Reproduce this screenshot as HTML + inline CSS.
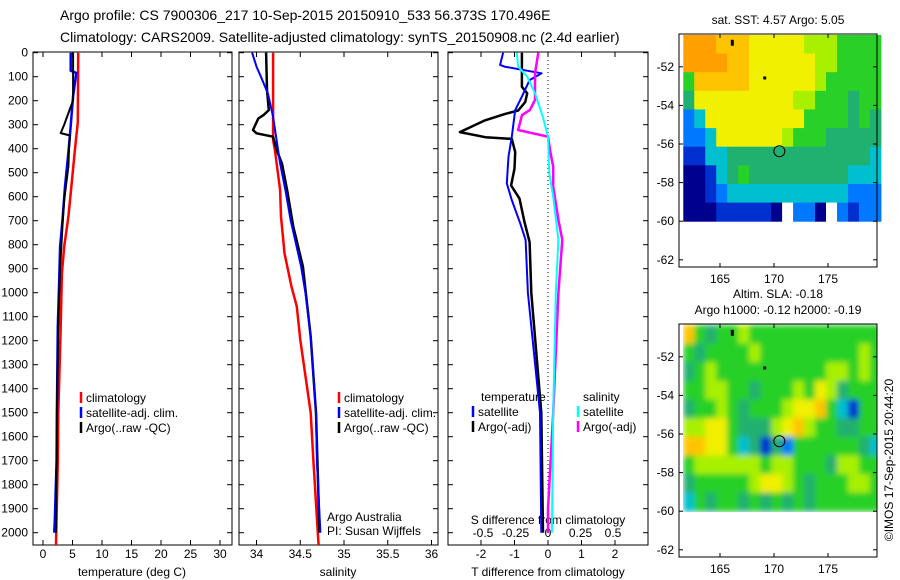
<!DOCTYPE html>
<html><head><meta charset="utf-8">
<style>
body{margin:0;background:#fff;}
svg{display:block;font-family:"Liberation Sans",sans-serif;}
text{font-size:12px;fill:#000;}
</style></head>
<body>
<svg id="chart" width="900" height="580" viewBox="0 0 900 580">
<defs>
<filter id="blur" x="0" y="0" width="1" height="1"><feGaussianBlur stdDeviation="3"/></filter>
<clipPath id="slaclip"><rect x="679" y="324" width="198" height="188"/></clipPath>
</defs>
<text x="60" y="20" style="font-size:14px">Argo profile: CS 7900306_217 10-Sep-2015 20150910_533 56.373S 170.496E</text>
<text x="60" y="42" style="font-size:14px">Climatology: CARS2009. Satellite-adjusted climatology: synTS_20150908.nc (2.4d earlier)</text>
<g id="g"></g>
</svg>
<script>
// ---------- data ----------
const depthTicks=[0,100,200,300,400,500,600,700,800,900,1000,1100,1200,1300,1400,1500,1600,1700,1800,1900,2000];
const tempTicks=[0,5,10,15,20,25,30];
const salTicks=[34,34.5,35,35.5,36];
const salTickLabels=["34","34.5","35","35.5","36"];
const tdTicks=[-2,-1,0,1,2];
const sdTicks=[-0.5,-0.25,0,0.25,0.5];
const sdTickLabels=["-0.5","-0.25","0","0.25","0.5"];
// temperature profiles [depth, value]
const tempClimDepth=[0,290,405,544,683,808,920,1142,1500,1700,2055];
const tempClim=[5.97,5.9,5.4,4.86,4.3,3.6,3.2,3.0,2.6,2.5,2.2];
const tempSatDepth=[0,75,84,180,305,416,558,697,808,947,1142,1500,1700,1950,2000];
const tempSat=[4.7,4.7,5.65,5.1,4.7,4.3,3.73,3.3,2.9,2.75,2.5,2.35,2.3,2.0,1.9];
const tempArgoDepth=[0,200,226,300,335,345,400,472,614,720,900,1142,1500,2000];
const tempArgo=[5.1,5.1,4.7,3.6,3.0,4.6,4.4,4.3,3.6,3.3,2.9,2.6,2.35,2.2];
// salinity profiles
const salClimDepth=[0,364,405,572,683,836,975,1058,1197,1500,1700,2000,2055];
const salClim=[34.19,34.19,34.21,34.27,34.28,34.32,34.40,34.46,34.5,34.62,34.65,34.70,34.71];
const salSatDepth=[0,58,100,170,267,364,461,572,697,794,891,1003,1183,1500,1700,2000];
const salSat=[33.95,34.0,34.05,34.13,34.19,34.23,34.27,34.33,34.39,34.45,34.51,34.56,34.62,34.68,34.69,34.73];
const salArgoDepth=[0,155,239,260,274,322,336,350,405,461,572,725,891,1183,1500,2000];
const salArgo=[34.11,34.12,34.14,34.08,34.02,33.96,34.0,34.19,34.23,34.29,34.35,34.42,34.53,34.62,34.68,34.72];
// differences
const tdArgoDepth=[0,142,169,206,241,255,283,331,352,359,414,483,553,608,706,789,1000,1500,2000];
const tdArgo=[-0.78,-0.78,-0.62,-0.68,-0.89,-1.28,-1.9,-2.63,-1.87,-1.08,-0.98,-1.0,-1.1,-0.85,-0.7,-0.55,-0.5,-0.2,-0.15];
const tdSatDepth=[0,51,58,86,114,183,239,350,433,544,614,711,780,1000,1500,2000];
const tdSat=[-1.34,-1.43,-1.3,-0.19,-0.55,-0.78,-0.98,-1.08,-1.18,-1.23,-1.08,-0.83,-0.67,-0.6,-0.24,-0.2];
const sdSatDepth=[0,58,100,169,267,350,503,600,780,1000,1500,2000];
const sdSat=[-0.24,-0.23,-0.16,-0.1,-0.04,0.0,0.01,0.04,0.08,0.06,0.04,0.03];
const sdArgoDepth=[0,86,197,239,260,322,350,419,475,558,697,780,1000,1500,1900,2000];
const sdArgo=[-0.075,-0.1,-0.1,-0.14,-0.2,-0.23,0.0,0.02,0.04,0.04,0.08,0.11,0.08,0.04,0.0,0.0];
// maps
const lonTicks=[165,170,175];
const latTicks=[-52,-54,-56,-58,-60,-62];
const sstGrid=[
"999888777776665555","999988777777665555","588888777777655555","477777777766555455",
"237777777775555454","223777777655544444","113344444444444443","001345444444444333",
"001233333333333222","000111110x220x2122"];
const slaGrid=[
"854556555555555555","545555655555555565","456555555555566565","556655455565764555",
"455654555677853155","667754446786554455","887753414255555543","566666656655546655",
"455555677654555665","354554545454555555"];
</script>
<script>
const NS="http://www.w3.org/2000/svg";
const G=document.getElementById('g');
function el(tag,attrs,parent){const e=document.createElementNS(NS,tag);for(const k in attrs)e.setAttribute(k,attrs[k]);(parent||G).appendChild(e);return e;}
function txt(x,y,s,anchor,parent,size){const t=el('text',{x:x,y:y,'text-anchor':anchor||'start'},parent);if(size)t.style.fontSize=size+'px';t.textContent=s;return t;}
const Y0=52.7,PXM=0.24,BOT=545,TOP=52;
const yD=d=>Y0+d*PXM;
const panels=[
 {x0:33,x1:232,name:'temperature-panel'},
 {x0:239,x1:438,name:'salinity-panel'},
 {x0:448,x1:648,name:'difference-panel'}];
const xT=v=>43+v*5.9, xS=v=>256.5+(v-34)*87.5, xTD=v=>548+v*33.5, xSD=v=>548+v*130;
panels.forEach((p,i)=>{
  const r=el('rect',{x:p.x0,y:TOP,width:p.x1-p.x0,height:BOT-TOP,fill:'none',stroke:'#000','stroke-width':1});
  
  
  depthTicks.forEach(d=>{
    el('line',{x1:p.x0,x2:p.x0+5,y1:yD(d),y2:yD(d),stroke:'#000'});
    el('line',{x1:p.x1,x2:p.x1-5,y1:yD(d),y2:yD(d),stroke:'#000'});
  });
});
const yl=el('g',{});


depthTicks.forEach(d=>txt(28,yD(d)+4,String(d),'end',yl));
function xaxis(ticks,labels,fx,name,p,ly){
  const g=el('g',{});
  
  
  ticks.forEach((t,i)=>{const x=fx(t);
    el('line',{x1:x,x2:x,y1:BOT,y2:BOT-5,stroke:'#000'},g);
    el('line',{x1:x,x2:x,y1:TOP,y2:TOP+5,stroke:'#000'},g);
    txt(x,ly||558,labels[i],'middle',g);});
}
xaxis(tempTicks,tempTicks.map(String),xT,'temperature-x-axis',panels[0]);
xaxis(salTicks,salTickLabels,xS,'salinity-x-axis',panels[1]);
xaxis(tdTicks,tdTicks.map(String),xTD,'t-difference-x-axis',panels[2]);
const sg=el('g',{});


sdTicks.forEach((t,i)=>txt(xSD(t),537,sdTickLabels[i],'middle',sg));
txt(548,524,'S difference from climatology','middle',sg);
let t;
t=txt(132,576,'temperature (deg C)','middle');
t=txt(338,576,'salinity','middle');
t=txt(548,576,'T difference from climatology','middle');
const z=el('line',{x1:548,x2:548,y1:TOP,y2:BOT,stroke:'#000','stroke-dasharray':'1,3'});

function series(ds,vs,fx,color,name,w){
  let pts=ds.map((d,i)=>fx(vs[i]).toFixed(1)+','+Math.min(yD(d),BOT).toFixed(1)).join(' ');
  const pl=el('polyline',{points:pts,fill:'none',stroke:color,'stroke-width':w||2.5,'stroke-linejoin':'round'});
  
  
}
series(tempClimDepth,tempClim,xT,'#ff0000','temp-climatology-line');
series(tempSatDepth,tempSat,xT,'#0000ff','temp-satellite-line');
series(tempArgoDepth,tempArgo,xT,'#000','temp-argo-line',2);
series(salClimDepth,salClim,xS,'#ff0000','sal-climatology-line');
series(salArgoDepth,salArgo,xS,'#000','sal-argo-line',2.5);
series(salSatDepth,salSat,xS,'#0000ff','sal-satellite-line',2);
series(tdArgoDepth,tdArgo,xTD,'#000','tdiff-argo-line',2.5);
series(tdSatDepth,tdSat,xTD,'#0000ff','tdiff-satellite-line',2);
series(sdArgoDepth,sdArgo,xSD,'#ff00ff','sdiff-argo-line',2.5);
series(sdSatDepth,sdSat,xSD,'#00ffff','sdiff-satellite-line',2);
function leg(x,y,color,label,name){
  const g=el('g',{});
  
  
  el('line',{x1:x,x2:x,y1:y-10,y2:y+1,stroke:color,'stroke-width':2.5},g);
  txt(x+5,y,label,'start',g);
}
leg(81,402,'#ff0000','climatology','legend-temp-climatology');
leg(81,417,'#0000ff','satellite-adj. clim.','legend-temp-satellite');
leg(81,432,'#000','Argo(..raw -QC)','legend-temp-argo');
leg(339,402,'#ff0000','climatology','legend-sal-climatology');
leg(339,417,'#0000ff','satellite-adj. clim.','legend-sal-satellite');
leg(339,432,'#000','Argo(..raw -QC)','legend-sal-argo');
txt(481,401,'temperature','start');
txt(583,401,'salinity','start');
leg(473,416,'#0000ff','satellite','legend-tdiff-satellite');
leg(473,431,'#000','Argo(-adj)','legend-tdiff-argo');
leg(578,416,'#00ffff','satellite','legend-sdiff-satellite');
leg(578,431,'#ff00ff','Argo(-adj)','legend-sdiff-argo');
txt(327,521,'Argo Australia','start');
txt(327,535,'PI: Susan Wijffels','start');
const cmap={'x':'#ffffff','0':'#00008f','1':'#0030d0','2':'#0078ff','3':'#00c0d0','4':'#20b070','5':'#28d028','6':'#a8f000','7':'#f0f000','8':'#ffc400','9':'#ffa000'};
function drawMap(oy,grid,name,title1,title2,smooth){
  const X0=679,X1=877,Y1=oy+34,Y2=oy+267;
  const lonX=l=>774+(l-170)*10.8, latY=l=>oy+144-(l+56)*19.3;
  const g=el('g',{});
  
  
  const cg=el('g',smooth?{'clip-path':'url(#slaclip)'}:{},g);
  const cells=el('g',smooth?{filter:'url(#blur)'}:{},cg);
  const lon0=161.6,lon1=179.9,lat0=-50.35,lat1=-60;
  const nr=grid.length,nc=grid[0].length;
  grid.forEach((row,r)=>{for(let c=0;c<nc;c++){
    const la=lat0+(lat1-lat0)*r/nr, lb=lat0+(lat1-lat0)*(r+1)/nr;
    const loa=lon0+(lon1-lon0)*c/nc, lob=lon0+(lon1-lon0)*(c+1)/nc;
    el('rect',{x:lonX(loa),y:latY(la),width:lonX(lob)-lonX(loa)+0.5,height:latY(lb)-latY(la)+0.5,fill:cmap[row[c]]},cells);
  }});
  el('rect',{x:X0,y:Y1,width:X1-X0,height:Y2-Y1,fill:'none',stroke:'#000'},g);
  lonTicks.forEach(l=>{const x=lonX(l);el('line',{x1:x,x2:x,y1:Y2,y2:Y2-4,stroke:'#000'},g);el('line',{x1:x,x2:x,y1:Y1,y2:Y1+4,stroke:'#000'},g);txt(x,Y2+16,String(l),'middle',g);});
  latTicks.forEach(l=>{const y=latY(l);el('line',{x1:X0,x2:X0+4,y1:y,y2:y,stroke:'#000'},g);el('line',{x1:X1,x2:X1-4,y1:y,y2:y,stroke:'#000'},g);txt(674,y+4,String(l),'end',g);});
  el('circle',{cx:lonX(170.496),cy:latY(-56.373),r:5.5,fill:'none',stroke:'#000'},g);
  el('rect',{x:lonX(166),y:latY(-50.6),width:3,height:6,fill:'#000'},g);
  el('rect',{x:lonX(169),y:latY(-52.5),width:3,height:3,fill:'#000'},g);
  txt(778,oy+(title2?8:24),title1,'middle',g);
  if(title2)txt(778,oy+24,title2,'middle',g);
}
drawMap(0,sstGrid,'sst-map','sat. SST: 4.57 Argo: 5.05',null,false);
drawMap(290,slaGrid,'sla-map','Altim. SLA: -0.18','Argo h1000: -0.12 h2000: -0.19',true);
t=txt(0,0,'©IMOS 17-Sep-2015 20:44:20','middle');
t.setAttribute('transform','translate(893,460) rotate(-90)');


</script>
</body></html>
